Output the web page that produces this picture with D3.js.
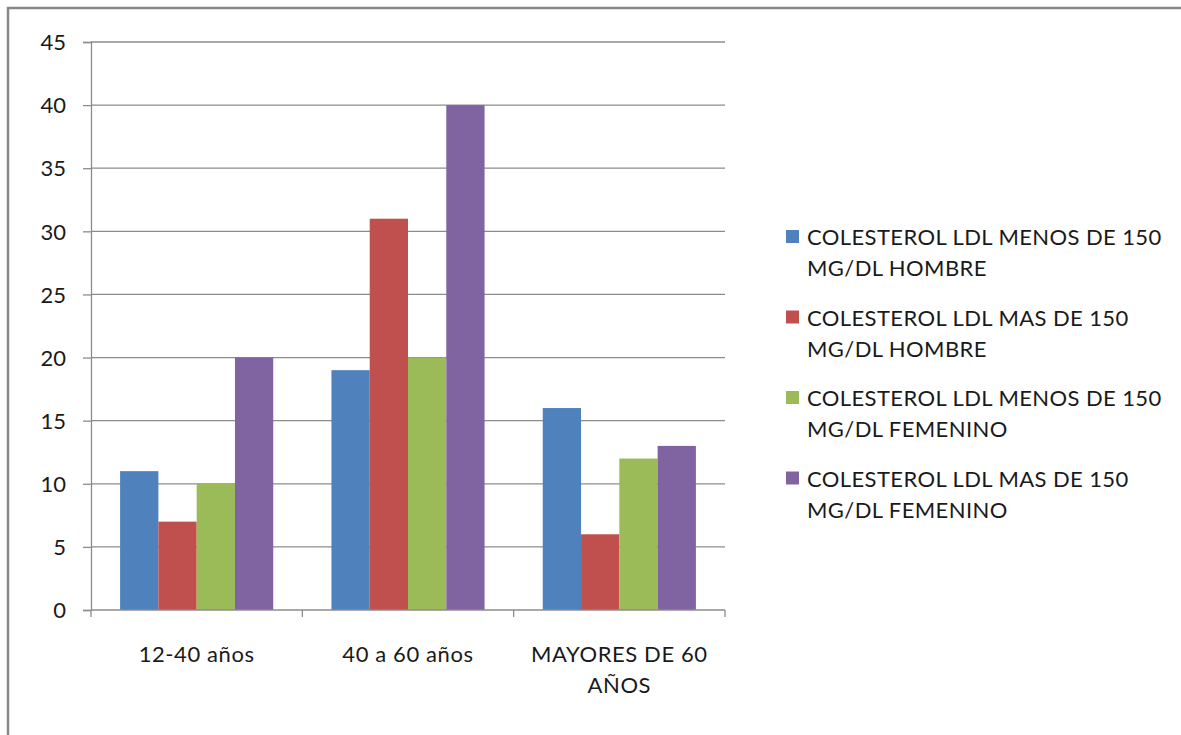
<!DOCTYPE html>
<html>
<head>
<meta charset="utf-8">
<title>Colesterol LDL</title>
<style>
  body { margin: 0; background: #fff; }
  svg text { font-family: Lato, "Open Sans", sans-serif; fill: #1a1a1a; }
  .grid line { stroke: #8c8c8c; stroke-width: 1.3px; }
</style>
</head>
<body>
<div id="vis"></div>
<script src="https://cdn.jsdelivr.net/npm/d3@7"></script>
<script>
var categories = ["12-40 años", "40 a 60 años", "MAYORES DE 60 AÑOS"];
var series = [
  "COLESTEROL LDL MENOS DE 150 MG/DL HOMBRE",
  "COLESTEROL LDL MAS DE 150 MG/DL HOMBRE",
  "COLESTEROL LDL MENOS DE 150 MG/DL FEMENINO",
  "COLESTEROL LDL MAS DE 150 MG/DL FEMENINO"
];
var menosHombre = [11, 19, 16];
var masHombre = [7, 31, 6];
var menosFemenino = [10, 20, 12];
var masFemenino = [20, 40, 13];
var yTicks = [0, 5, 10, 15, 20, 25, 30, 35, 40, 45];
var colors = ["#4F81BD", "#C0504D", "#9BBB59", "#8064A2"];

var values = [menosHombre, masHombre, menosFemenino, masFemenino];

var width = 1181, height = 735;
var svg = d3.select("#vis").append("svg")
    .attr("width", width)
    .attr("height", height);

// frame
svg.append("path")
    .attr("d", "M8 " + height + " L8 8 L" + width + " 8")
    .attr("fill", "none")
    .attr("stroke", "#888")
    .attr("stroke-width", 2.5);

var plotLeft = 91, plotRight = 725, plotTop = 42, plotBottom = 610;

var x = d3.scaleBand().domain(categories).range([plotLeft, plotRight]);
var xs = d3.scaleBand().domain(d3.range(series.length))
    .range([0, x.bandwidth()]).paddingInner(0).paddingOuter(0.76);
var y = d3.scaleLinear().domain([0, 45]).range([plotBottom, plotTop]);

// gridlines
svg.append("g").attr("class", "grid")
    .selectAll("line").data(yTicks.slice(1)).enter()
    .append("line")
    .attr("x1", plotLeft).attr("x2", plotRight)
    .attr("y1", function(d) { return y(d); })
    .attr("y2", function(d) { return y(d); });

// bars
var groups = svg.append("g").selectAll("g")
    .data(categories).enter().append("g")
    .attr("transform", function(d) { return "translate(" + x(d) + ",0)"; });

groups.selectAll("rect")
    .data(function(d, i) { return values.map(function(v, s) { return {s: s, v: v[i]}; }); })
    .enter().append("rect")
    .attr("x", function(d) { return xs(d.s); })
    .attr("width", xs.bandwidth())
    .attr("y", function(d) { return y(d.v); })
    .attr("height", function(d) { return plotBottom - y(d.v); })
    .attr("fill", function(d) { return colors[d.s]; });

// y axis
var yAxis = svg.append("g")
    .attr("transform", "translate(" + plotLeft + ",0)")
    .call(d3.axisLeft(y).tickValues(yTicks).tickSize(8).tickPadding(17));
yAxis.select(".domain").attr("stroke", "#8c8c8c").attr("stroke-width", 1.3);
yAxis.selectAll(".tick line").attr("stroke", "#8c8c8c").attr("stroke-width", 1.3);
yAxis.selectAll("text").style("font-size", "22px").attr("font-family", null).attr("dy", "0.35em");

// x axis
var xAxisG = svg.append("g")
    .attr("transform", "translate(0," + plotBottom + ")");
xAxisG.append("line")
    .attr("x1", plotLeft).attr("x2", plotRight)
    .attr("stroke", "#8c8c8c").attr("stroke-width", 1.3);
xAxisG.selectAll(".xt")
    .data(categories.map(function(c) { return x(c); }).concat([plotRight]))
    .enter().append("line")
    .attr("x1", function(d) { return d; }).attr("x2", function(d) { return d; })
    .attr("y1", 0).attr("y2", 7)
    .attr("stroke", "#8c8c8c").attr("stroke-width", 1.3);

xAxisG.selectAll(".xl").data(categories).enter()
    .append("text")
    .attr("text-anchor", "middle")
    .style("font-size", "22px")
    .style("letter-spacing", "0.6px")
    .attr("x", function(d) { return x(d) + x.bandwidth() / 2; })
    .attr("y", 52)
    .each(function(d) { wrap(d3.select(this), d.split(" "), 195, 31); });

// legend
var legend = svg.append("g");
var items = legend.selectAll("g").data(series).enter().append("g")
    .attr("transform", function(d, i) { return "translate(786," + (230 + i * 80.5) + ")"; });
items.append("rect")
    .attr("width", 13).attr("height", 13)
    .attr("fill", function(d, i) { return colors[i]; });
items.append("text")
    .attr("x", 21).attr("y", 15)
    .style("font-size", "22px")
    .style("letter-spacing", "0.4px")
    .each(function(d) {
        // Excel breaks these right before "MG/DL"
        var parts = d.split(" MG/DL");
        wrap(d3.select(this), [parts[0], "MG/DL" + parts[1]], 10, 31);
    });

function wrap(text, words, maxWidth, lineH) {
    var line = [];
    var xPos = text.attr("x");
    var tspan = text.append("tspan").attr("x", xPos).attr("dy", 0);
    words.forEach(function(w) {
        line.push(w);
        tspan.text(line.join(" "));
        if (tspan.node().getComputedTextLength() > maxWidth && line.length > 1) {
            line.pop();
            tspan.text(line.join(" "));
            line = [w];
            tspan = text.append("tspan").attr("x", xPos).attr("dy", lineH).text(w);
        }
    });
}
</script>
</body>
</html>
